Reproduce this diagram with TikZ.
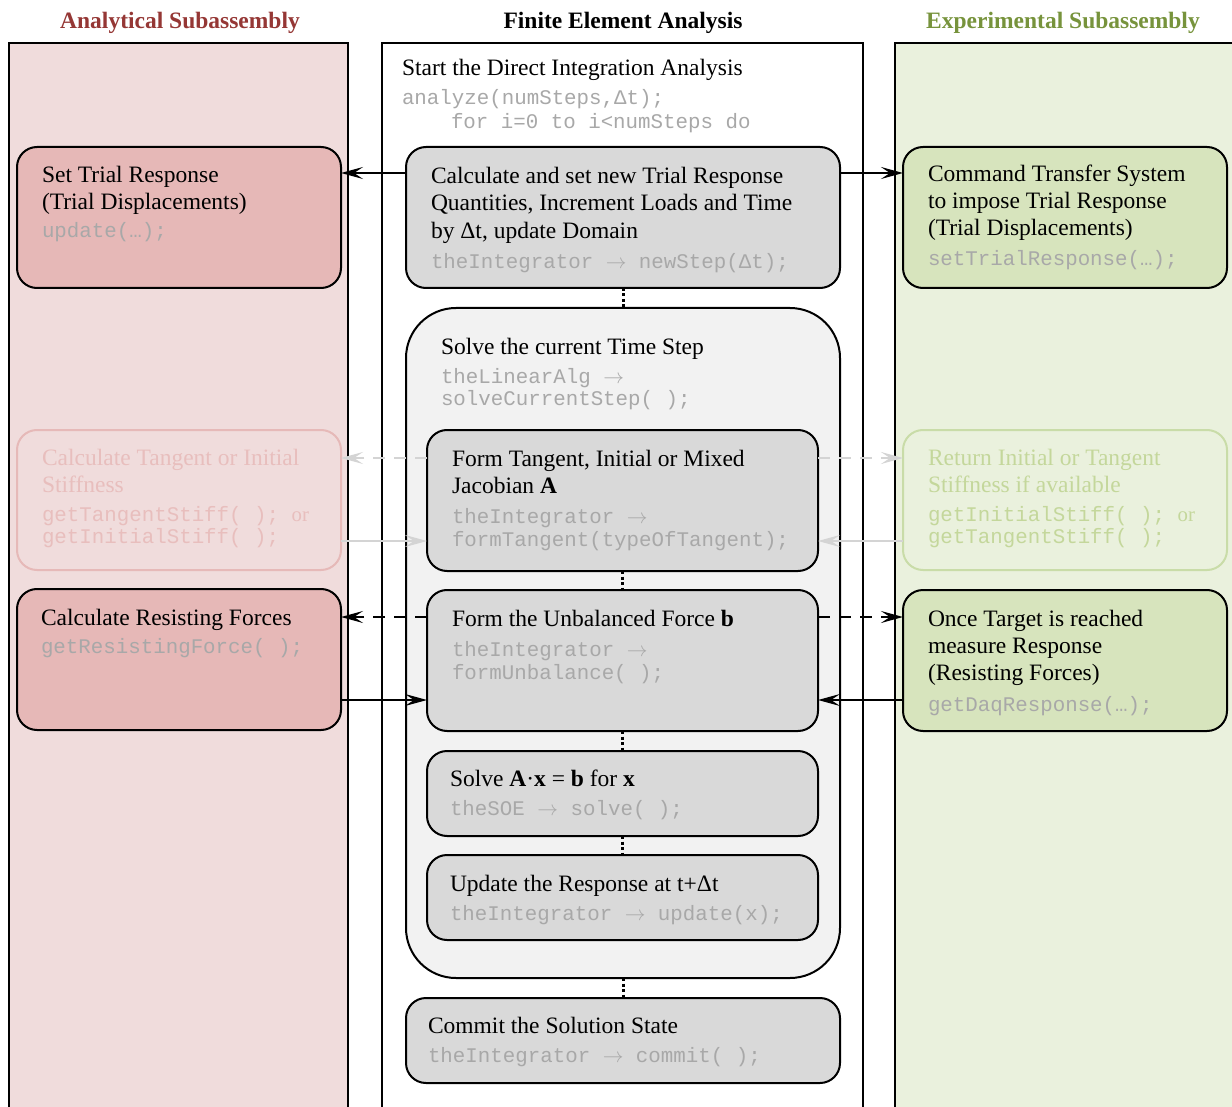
\documentclass[tikz,border=0pt]{standalone}
\usepackage{fontspec}
\setmainfont{Liberation Serif}
\setmonofont{Liberation Mono}
\usetikzlibrary{arrows.meta}
\definecolor{laneA}{HTML}{F0DCDC}
\definecolor{laneE}{HTML}{EAF1DD}
\definecolor{boxA}{HTML}{E6B8B7}
\definecolor{boxE}{HTML}{D7E4BD}
\definecolor{boxG}{HTML}{D9D9D9}
\definecolor{contG}{HTML}{F2F2F2}
\definecolor{hRed}{HTML}{953735}
\definecolor{hGreen}{HTML}{77933C}
\definecolor{codeG}{HTML}{A8A8A8}
\definecolor{fadeRline}{HTML}{E6B9B8}
\definecolor{fadeRtext}{HTML}{E8BEBD}
\definecolor{fadeGline}{HTML}{C9DCA8}
\definecolor{fadeGtext}{HTML}{C4D79B}
\definecolor{fadeArr}{HTML}{D4D4D4}
\begin{document}
\begin{tikzpicture}[x=1pt,y=-1pt,
  every node/.style={inner sep=0pt,outer sep=0pt},
  txt/.style={anchor=base west,font=\fontsize{23.5}{27}\selectfont},
  code/.style={anchor=base west,font=\fontsize{20.8}{23}\selectfont\ttfamily,text=codeG},
  head/.style={anchor=base,font=\fontsize{23.5}{27}\selectfont\bfseries},
  lane/.style={line width=1.5pt,draw=black},
  rbox/.style={draw=black,line width=2pt,rounded corners=20pt},
  fbox/.style={line width=2pt,rounded corners=20pt},
  tip/.style={-{Stealth[length=22pt,width=12pt,inset=9pt]}},
  arr/.style={tip,line width=2.2pt,draw=black},
  darr/.style={tip,line width=2.2pt,draw=black,dash pattern=on 12pt off 9pt},
  farr/.style={tip,line width=2.2pt,draw=fadeArr},
  fdarr/.style={tip,line width=2.2pt,draw=fadeArr,dash pattern=on 12pt off 9pt},
  dots/.style={line width=3pt,dash pattern=on 3pt off 2.5pt}]
\useasboundingbox (0,0) rectangle (1232,1107);
% lanes
\filldraw[lane,fill=laneA] (9,1125) -- (9,43) -- (348,43) -- (348,1125);
\filldraw[lane,fill=white] (382,1125) -- (382,43) -- (863,43) -- (863,1125);
\filldraw[lane,fill=laneE] (895,1125) -- (895,43) -- (1250,43) -- (1250,1125);
% headers
\node[head,text=hRed] (hA) at (180,29) {Analytical Subassembly};
\node[head] (hF) at (623,29) {Finite Element Analysis};
\node[head,text=hGreen] (hE) at (1063,29) {Experimental Subassembly};
% start text
\node[txt] (s1) at (402,76) {Start the Direct Integration Analysis};
\node[code] (s2) at (402,105) {analyze(numSteps,Δt);};
\node[code] (s3) at (451,129) {for i=0 to i<numSteps do};
% boxes
\node[rbox,fill=boxG,minimum width=434pt,minimum height=141pt] (ns) at (623,217.5) {};
\node[rbox,fill=boxA,minimum width=324pt,minimum height=141pt] (st) at (179,217.5) {};
\node[rbox,fill=boxE,minimum width=324pt,minimum height=141pt] (ct) at (1065,217.5) {};
\node[draw=black,line width=2pt,rounded corners=50pt,fill=contG,minimum width=434pt,minimum height=670pt] (cont) at (623,643) {};
\node[rbox,fill=boxG,minimum width=391pt,minimum height=141pt] (ft) at (622.5,500.5) {};
\node[fbox,draw=fadeRline,fill=laneA,minimum width=324pt,minimum height=140pt] (fl) at (179,500) {};
\node[fbox,draw=fadeGline,fill=laneE,minimum width=324pt,minimum height=140pt] (fr) at (1065,500) {};
\node[rbox,fill=boxG,minimum width=391pt,minimum height=141pt] (ub) at (622.5,660.5) {};
\node[rbox,fill=boxA,minimum width=324pt,minimum height=141pt] (rl) at (179,659.5) {};
\node[rbox,fill=boxE,minimum width=324pt,minimum height=141pt] (ot) at (1065,660.5) {};
\node[rbox,fill=boxG,minimum width=391pt,minimum height=85pt] (sv) at (622.5,793.5) {};
\node[rbox,fill=boxG,minimum width=391pt,minimum height=85pt] (up) at (622.5,897.5) {};
\node[rbox,fill=boxG,minimum width=434pt,minimum height=85pt] (cm) at (623,1040.5) {};
% texts: newStep
\node[txt] (ns1) at (431,184) {Calculate and set new Trial Response};
\node[txt] (ns2) at (431,211) {Quantities, Increment Loads and Time};
\node[txt] (ns3) at (431,239) {by Δt, update Domain};
\node[code] (ns4) at (431,269) {theIntegrator $\rightarrow$ newStep(Δt);};
% set trial
\node[txt] (st1) at (42,183) {Set Trial Response};
\node[txt] (st2) at (42,210) {(Trial Displacements)};
\node[code] (st3) at (42,238) {update(…);};
% command
\node[txt] (ct1) at (928,182) {Command Transfer System};
\node[txt] (ct2) at (928,209) {to impose Trial Response};
\node[txt] (ct3) at (928,236) {(Trial Displacements)};
\node[code] (ct4) at (928,266) {setTrialResponse(…);};
% container
\node[txt] (c1) at (441,355) {Solve the current Time Step};
\node[code] (c2) at (441,383) {theLinearAlg $\rightarrow$};
\node[code] (c3) at (441,406) {solveCurrentStep( );};
% form tangent
\node[txt] (ft1) at (452,466) {Form Tangent, Initial or Mixed};
\node[txt] (ft2) at (452,493) {Jacobian \textbf{A}};
\node[code] (ft3) at (452,523) {theIntegrator $\rightarrow$};
\node[code] (ft4) at (452,546) {formTangent(typeOfTangent);};
% faded left
\node[txt,text=fadeRtext] (fl1) at (42,465) {Calculate Tangent or Initial};
\node[txt,text=fadeRtext] (fl2) at (42,492) {Stiffness};
\node[code,text=fadeRtext] (fl3) at (42,521) {getTangentStiff( ); {\rmfamily or}};
\node[code,text=fadeRtext] (fl4) at (42,543) {getInitialStiff( );};
% faded right
\node[txt,text=fadeGtext] (fr1) at (928,465) {Return Initial or Tangent};
\node[txt,text=fadeGtext] (fr2) at (928,492) {Stiffness if available};
\node[code,text=fadeGtext] (fr3) at (928,521) {getInitialStiff( ); {\rmfamily or}};
\node[code,text=fadeGtext] (fr4) at (928,543) {getTangentStiff( );};
% unbalanced
\node[txt] (ub1) at (452,626) {Form the Unbalanced Force \textbf{b}};
\node[code] (ub2) at (452,656) {theIntegrator $\rightarrow$};
\node[code] (ub3) at (452,679) {formUnbalance( );};
% resisting
\node[txt] (rl1) at (41,625) {Calculate Resisting Forces};
\node[code] (rl2) at (41,653) {getResistingForce( );};
% once target
\node[txt] (ot1) at (928,626) {Once Target is reached};
\node[txt] (ot2) at (928,653) {measure Response};
\node[txt] (ot3) at (928,680) {(Resisting Forces)};
\node[code] (ot4) at (928,711) {getDaqResponse(…);};
% solve
\node[txt] (sv1) at (450,786) {Solve \textbf{A}·\textbf{x} = \textbf{b} for \textbf{x}};
\node[code] (sv2) at (450,815) {theSOE $\rightarrow$ solve( );};
% update
\node[txt] (up1) at (450,891) {Update the Response at t+Δt};
\node[code] (up2) at (450,920) {theIntegrator $\rightarrow$ update(x);};
% commit
\node[txt] (cm1) at (428,1033) {Commit the Solution State};
\node[code] (cm2) at (428,1062) {theIntegrator $\rightarrow$ commit( );};
% dotted connectors
\draw[dots] (ns.south) -- (cont.north);
\draw[dots] (ft.south) -- (ub.north);
\draw[dots] (ub.south) -- (sv.north);
\draw[dots] (sv.south) -- (up.north);
\draw[dots] (cont.south) -- (cm.north);
% arrows
\draw[arr] (ns.west |- 0,173) -- (st.east |- 0,173);
\draw[arr] (ns.east |- 0,173) -- (ct.west |- 0,173);
\draw[fdarr] (ft.west |- 0,458) -- (fl.east |- 0,458);
\draw[farr] (fl.east |- 0,541) -- (ft.west |- 0,541);
\draw[fdarr] (ft.east |- 0,458) -- (fr.west |- 0,458);
\draw[farr] (fr.west |- 0,541) -- (ft.east |- 0,541);
\draw[darr] (ub.west |- 0,617) -- (rl.east |- 0,617);
\draw[darr] (ub.east |- 0,617) -- (ot.west |- 0,617);
\draw[arr] (rl.east |- 0,700) -- (ub.west |- 0,700);
\draw[arr] (ot.west |- 0,700) -- (ub.east |- 0,700);
\end{tikzpicture}
\end{document}
